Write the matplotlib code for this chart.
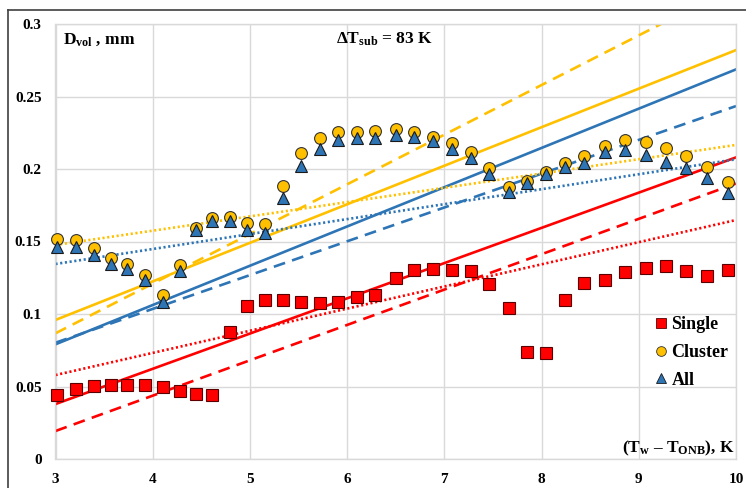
import matplotlib
matplotlib.use("Agg")
import matplotlib.pyplot as plt
from matplotlib.lines import Line2D
import numpy as np

plt.rcParams['font.family'] = ['Liberation Serif', 'DejaVu Serif']
plt.rcParams['font.weight'] = 'bold'
plt.rcParams['mathtext.fontset'] = 'custom'
plt.rcParams['mathtext.rm'] = 'Liberation Serif:bold'
plt.rcParams['mathtext.it'] = 'Liberation Serif:bold'
plt.rcParams['mathtext.bf'] = 'Liberation Serif:bold'
plt.rcParams['mathtext.default'] = 'rm'

# ---- data ----
x_vals = [3.02, 3.21, 3.40, 3.57, 3.74, 3.92, 4.11, 4.28, 4.45, 4.61, 4.79, 4.97,
          5.15, 5.34, 5.53, 5.72, 5.91, 6.10, 6.29, 6.50, 6.69, 6.88, 7.08, 7.27,
          7.46, 7.66, 7.85, 8.05, 8.24, 8.44, 8.65, 8.86, 9.07, 9.28, 9.49, 9.70, 9.92]

single = [0.0441, 0.0481, 0.0503, 0.0508, 0.0508, 0.0510, 0.0497, 0.0469, 0.0448, 0.0439,
          0.0876, 0.1057, 0.1094, 0.1094, 0.1085, 0.1078, 0.1083, 0.1119, 0.1131, 0.1250,
          0.1303, 0.1308, 0.1301, 0.1297, 0.1207, 0.1041, 0.0736, 0.0731, 0.1097, 0.1216,
          0.1232, 0.1288, 0.1315, 0.1331, 0.1297, 0.1262, 0.1301]

cluster = [0.1515, 0.1510, 0.1453, 0.1384, 0.1345, 0.1269, 0.1131, 0.1338, 0.1595, 0.1660,
           0.1667, 0.1630, 0.1620, 0.1883, 0.2108, 0.2212, 0.2257, 0.2257, 0.2264, 0.2274,
           0.2257, 0.2219, 0.2177, 0.2119, 0.2005, 0.1874, 0.1917, 0.1981, 0.2043, 0.2090,
           0.2161, 0.2200, 0.2188, 0.2143, 0.2090, 0.2016, 0.1912]

all_vals = [0.1464, 0.1464, 0.1407, 0.1345, 0.1308, 0.1234, 0.1085, 0.1299, 0.1580, 0.1640,
            0.1640, 0.1580, 0.1557, 0.1798, 0.2023, 0.2138, 0.2200, 0.2212, 0.2212, 0.2234,
            0.2219, 0.2195, 0.2136, 0.2074, 0.1966, 0.1843, 0.1901, 0.1966, 0.2016, 0.2043,
            0.2119, 0.2131, 0.2097, 0.2050, 0.2005, 0.1936, 0.1837]

# correlation lines: values at x = 3 and x = 10
line_x = [3, 10]
red_solid = [0.0379, 0.2080]
red_dashed = [0.0193, 0.1900]
red_dotted = [0.0579, 0.1648]
yellow_solid = [0.0959, 0.2820]
yellow_dashed = [0.0867, 0.3264]
yellow_dotted = [0.1476, 0.2166]
blue_solid = [0.0791, 0.2687]
blue_dashed = [0.0802, 0.2434]
blue_dotted = [0.1345, 0.2067]

x_ticks = [3, 4, 5, 6, 7, 8, 9, 10]
y_ticks = [0, 0.05, 0.1, 0.15, 0.2, 0.25, 0.3]
y_tick_labels = ['0', '0.05', '0.1', '0.15', '0.2', '0.25', '0.3']

RED = '#FF0000'
GOLD = '#FFC000'
BLUE = '#2E75B6'

fig = plt.figure(figsize=(7.46, 4.88), dpi=100)
ax = fig.add_axes([55.5 / 746, 1 - 459 / 488, (736 - 55.5) / 746, (459 - 24) / 488])

lw = 1.9
dash = (0, (4.5, 2.8))
dot = (0, (0.8, 1.0))
for vals, c in [(red_solid, RED), (yellow_solid, GOLD), (blue_solid, BLUE)]:
    ax.plot(line_x, vals, color=c, lw=lw, ls='-', zorder=2)
for vals, c in [(red_dashed, RED), (yellow_dashed, GOLD), (blue_dashed, BLUE)]:
    ax.plot(line_x, vals, color=c, lw=lw, ls=dash, zorder=2)
for vals, c in [(red_dotted, RED), (yellow_dotted, GOLD), (blue_dotted, BLUE)]:
    ax.plot(line_x, vals, color=c, lw=lw, ls=dot, zorder=2)

ms = 8.5
ax.plot(x_vals, single, ls='none', marker='s', ms=ms, mfc=RED, mec='#5a0000', mew=0.8,
        zorder=3, clip_on=False)
ax.plot(x_vals, cluster, ls='none', marker='o', ms=ms, mfc=GOLD, mec='#333333', mew=0.8,
        zorder=4, clip_on=False)
ax.plot(x_vals, all_vals, ls='none', marker='^', ms=ms, mfc=BLUE, mec='#1a1a1a', mew=0.8,
        zorder=5, clip_on=False)

ax.set_xlim(3, 10)
ax.set_ylim(0, 0.3)
ax.set_xticks(x_ticks)
ax.set_xticklabels([str(t) for t in x_ticks])
ax.set_yticks(y_ticks)
ax.set_yticklabels(y_tick_labels)
ax.tick_params(length=0, labelsize=11, pad=10)
ax.tick_params(axis='x', pad=10)
for lab in ax.get_xticklabels() + ax.get_yticklabels():
    lab.set_fontweight('bold')
ax.grid(True, color='#D9D9D9', lw=1)
ax.set_axisbelow(True)
for s in ax.spines.values():
    s.set_color('#D9D9D9')
    s.set_linewidth(1)

ax.text(63 / 746, 1 - 44 / 488, r'D$_{\mathrm{vol}}$ , mm', transform=fig.transFigure,
        fontsize=12.5, fontweight='bold', ha='left', va='baseline')
ax.text(336 / 746, 1 - 44 / 488, r'ΔT$_{\mathrm{sub}}$ = 83 K', transform=fig.transFigure,
        fontsize=12.5, fontweight='bold', ha='left', va='baseline')
ax.text(734 / 746, 1 - 452 / 488, r'(T$_{\mathrm{w}}$ – T$_{\mathrm{ONB}}$), K',
        transform=fig.transFigure, fontsize=12.5, fontweight='bold', ha='right', va='baseline')

handles = [
    Line2D([], [], ls='none', marker='s', ms=7, mfc=RED, mec='#5a0000', mew=0.6),
    Line2D([], [], ls='none', marker='o', ms=7, mfc=GOLD, mec='#333333', mew=0.6),
    Line2D([], [], ls='none', marker='^', ms=7, mfc=BLUE, mec='#1a1a1a', mew=0.6),
]
leg = ax.legend(handles, ['Single', 'Cluster', 'All'], loc='upper left',
                bbox_to_anchor=(656 / 746, 1 - 316 / 488), bbox_transform=fig.transFigure,
                frameon=False, prop={'family': 'Liberation Serif', 'weight': 'bold', 'size': 13},
                handlelength=0.6, handletextpad=0.25, labelspacing=0.6, borderpad=0,
                borderaxespad=0)

# outer frame (top and left edges visible)
fig.add_artist(Line2D([8 / 746, 8 / 746], [0, 1 - 10 / 488], transform=fig.transFigure,
                      color='#404040', lw=1.2))
fig.add_artist(Line2D([8 / 746, 1], [1 - 10 / 488, 1 - 10 / 488], transform=fig.transFigure,
                      color='#404040', lw=1.2))

fig.savefig('out.png', dpi=100)
